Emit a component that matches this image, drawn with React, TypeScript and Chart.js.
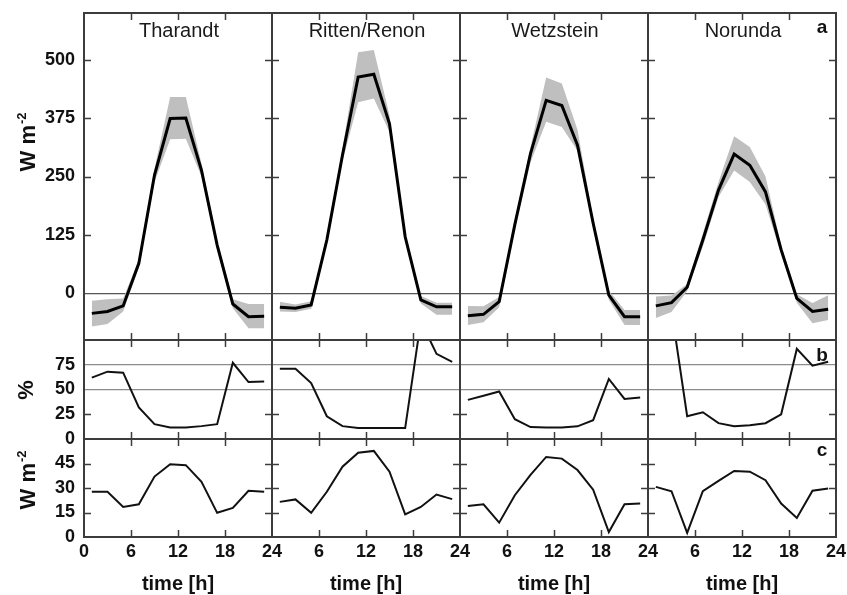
import React, { useEffect, useRef } from 'react';
import { Chart, registerables } from 'chart.js';

Chart.register(...registerables);

// ---------- data ----------
const SITES = ['Tharandt', 'Ritten/Renon', 'Wetzstein', 'Norunda'];
const HOURS = [1, 3, 5, 7, 9, 11, 13, 15, 17, 19, 21, 23];
const X_TICKS = [0, 6, 12, 18, 24];
const A_TICKS = [0, 125, 250, 375, 500];
const B_TICKS = [0, 25, 50, 75];
const C_TICKS = [0, 15, 30, 45];
const ROW_LETTERS = ['a', 'b', 'c'];
const X_TITLE = 'time [h]';

// (a) mean flux (W m-2) and its range
const A_MEAN_THARANDT = [-43, -39, -27, 64, 253, 374, 375, 263, 103, -23, -50, -49];
const A_LOW_THARANDT = [-71, -66, -39, 55, 238, 330, 331, 250, 92, -32, -75, -75];
const A_HIGH_THARANDT = [-16, -13, -11, 72, 267, 420, 420, 278, 112, -13, -23, -23];

const A_MEAN_RITTEN = [-30, -32, -25, 114, 296, 463, 469, 363, 121, -14, -29, -29];
const A_LOW_RITTEN = [-39, -40, -33, 106, 283, 409, 417, 345, 112, -22, -46, -46];
const A_HIGH_RITTEN = [-18, -24, -17, 122, 310, 516, 521, 381, 130, -6, -20, -20];

const A_MEAN_WETZSTEIN = [-48, -45, -18, 147, 299, 413, 402, 317, 150, -4, -50, -50];
const A_LOW_WETZSTEIN = [-68, -62, -30, 137, 280, 367, 356, 305, 140, -14, -68, -68];
const A_HIGH_WETZSTEIN = [-27, -28, -8, 157, 313, 462, 449, 350, 160, 6, -36, -36];

const A_MEAN_NORUNDA = [-27, -20, 13, 114, 221, 298, 274, 217, 93, -11, -39, -34];
const A_LOW_NORUNDA = [-53, -40, 5, 100, 206, 263, 238, 190, 83, -20, -64, -57];
const A_HIGH_NORUNDA = [-7, -5, 20, 128, 238, 336, 313, 250, 103, -2, -21, -4];

// (b) percent
const B_THARANDT = [62, 68, 67, 32, 15, 11.6, 11.5, 13, 15, 77, 57.5, 58];
const B_RITTEN = [71, 71, 56.5, 23, 13, 11, 11, 11, 11, 119, 86, 78];
const B_WETZSTEIN = [39.5, 43.6, 48, 20, 12, 11.5, 11.5, 12.8, 19, 60.6, 40.5, 42];
const B_NORUNDA = [135, 130, 23, 27, 16, 13, 14, 16, 25, 91, 74, 78];

// (c) W m-2
const C_THARANDT = [27.7, 27.7, 18.4, 20, 37, 44.5, 44, 33.8, 14.8, 17.8, 28.3, 27.7];
const C_RITTEN = [21.5, 23, 14.8, 27.7, 43, 51.6, 52.7, 40, 13.8, 18.4, 26, 23.2];
const C_WETZSTEIN = [19, 20, 8.8, 25.6, 38, 49, 48, 41, 29, 3, 20, 20.5];
const C_NORUNDA = [30.7, 28, 2.5, 28, 34.4, 40.4, 40, 34.8, 20.5, 11.7, 28.3, 29.7];

const A_MEAN = [A_MEAN_THARANDT, A_MEAN_RITTEN, A_MEAN_WETZSTEIN, A_MEAN_NORUNDA];
const A_LOW = [A_LOW_THARANDT, A_LOW_RITTEN, A_LOW_WETZSTEIN, A_LOW_NORUNDA];
const A_HIGH = [A_HIGH_THARANDT, A_HIGH_RITTEN, A_HIGH_WETZSTEIN, A_HIGH_NORUNDA];
const B_VALS = [B_THARANDT, B_RITTEN, B_WETZSTEIN, B_NORUNDA];
const C_VALS = [C_THARANDT, C_RITTEN, C_WETZSTEIN, C_NORUNDA];

// ---------- layout / style ----------
const W = 847;
const H = 595;
const PANEL_LEFT = 84;
const PANEL_W = 188;
const FONT = '"Liberation Sans", Arial, Helvetica, sans-serif';

const ROWS = [
  { top: 13, bottom: 340, min: -100, max: 600, ticks: A_TICKS, lines: [0], lineColor: '#555555', marks: [125, 250, 375, 500], unit: 'W m', sup: '-2', unitX: 27, unitY: 142, letterY: 28 },
  { top: 340, bottom: 439, min: 0, max: 100, ticks: B_TICKS, lines: [50, 75], lineColor: '#8c8c8c', marks: [25], unit: '%', sup: '', unitX: 25, unitY: 390, letterY: 356 },
  { top: 439, bottom: 537, min: 0, max: 60, ticks: C_TICKS, lines: [] as number[], lineColor: '#8c8c8c', marks: [15, 30, 45], unit: 'W m', sup: '-2', unitX: 27, unitY: 480, letterY: 451 },
];

function drawUnit(ctx: CanvasRenderingContext2D, x: number, y: number, main: string, sup: string) {
  ctx.save();
  ctx.translate(x, y);
  ctx.rotate(-Math.PI / 2);
  ctx.fillStyle = '#111';
  ctx.textBaseline = 'alphabetic';
  ctx.textAlign = 'left';
  ctx.font = `bold 22px ${FONT}`;
  const w1 = ctx.measureText(main).width;
  ctx.font = `bold 13px ${FONT}`;
  const w2 = sup ? ctx.measureText(sup).width + 1 : 0;
  const start = -(w1 + w2) / 2;
  ctx.font = `bold 22px ${FONT}`;
  ctx.fillText(main, start, 8);
  if (sup) {
    ctx.font = `bold 13px ${FONT}`;
    ctx.fillText(sup, start + w1 + 1, -1);
  }
  ctx.restore();
}

function makeFramePlugin(col: number, row: number) {
  const R = ROWS[row];
  return {
    id: 'panelFrame' + col + row,
    afterDraw(chart: any) {
      const { ctx, chartArea: ca, scales } = chart;
      const xs = scales.x;
      const ys = scales.y;
      ctx.save();
      ctx.strokeStyle = '#3c3c3c';
      ctx.lineWidth = 1.5;
      ctx.beginPath();
      for (const v of X_TICKS.slice(1, -1)) {
        const px = Math.round(xs.getPixelForValue(v)) + 0.5;
        ctx.moveTo(px, ca.top);
        ctx.lineTo(px, ca.top + 7);
        ctx.moveTo(px, ca.bottom);
        ctx.lineTo(px, ca.bottom - 7);
      }
      for (const v of R.marks) {
        const py = Math.round(ys.getPixelForValue(v)) + 0.5;
        ctx.moveTo(ca.left, py);
        ctx.lineTo(ca.left + 7, py);
        ctx.moveTo(ca.right, py);
        ctx.lineTo(ca.right - 7, py);
      }
      ctx.stroke();
      ctx.lineWidth = 2;
      ctx.strokeRect(ca.left, ca.top, ca.right - ca.left, ca.bottom - ca.top);

      if (row === 0) {
        ctx.fillStyle = '#1a1a1a';
        ctx.font = `20px ${FONT}`;
        ctx.textAlign = 'center';
        ctx.textBaseline = 'middle';
        ctx.fillText(SITES[col], (ca.left + ca.right) / 2 + 1, ca.top + 18);
      }
      if (col === 3) {
        ctx.fillStyle = '#111';
        ctx.font = `bold 19px ${FONT}`;
        ctx.textAlign = 'center';
        ctx.textBaseline = 'middle';
        ctx.fillText(ROW_LETTERS[row], ca.right - 14, R.letterY);
      }
      if (col === 0) {
        drawUnit(ctx, R.unitX, R.unitY, R.unit, R.sup);
      }
      ctx.restore();
    },
  };
}

function Panel({ col, row }: { col: number; row: number }) {
  const ref = useRef<HTMLCanvasElement>(null);
  useEffect(() => {
    const R = ROWS[row];
    const pts = (vals: number[]) => HOURS.map((h, i) => ({ x: h, y: vals[i] }));
    const datasets: any[] = [];
    if (row === 0) {
      // dataset 0 is drawn on top in Chart.js, so the mean line goes first
      datasets.push({ data: pts(A_MEAN[col]), borderWidth: 3, borderColor: '#000', pointRadius: 0, fill: false, clip: 0 });
      datasets.push({ data: pts(A_LOW[col]), borderWidth: 0, borderColor: 'rgba(0,0,0,0)', pointRadius: 0, fill: false, clip: 0 });
      datasets.push({ data: pts(A_HIGH[col]), borderWidth: 0, borderColor: 'rgba(0,0,0,0)', pointRadius: 0, fill: 1, backgroundColor: '#bfbfbf', clip: 0 });
    } else {
      const vals = row === 1 ? B_VALS[col] : C_VALS[col];
      datasets.push({ data: pts(vals), borderWidth: 2, borderColor: '#111', pointRadius: 0, fill: false, clip: 0 });
    }
    const firstCol = col === 0;
    const lastRow = row === 2;
    const chart = new Chart(ref.current as HTMLCanvasElement, {
      type: 'line',
      data: { datasets },
      options: {
        animation: false,
        responsive: false,
        maintainAspectRatio: false,
        events: [],
        layout: {
          autoPadding: false,
          padding: {
            left: firstCol ? 0 : PANEL_LEFT + col * PANEL_W,
            right: W - (PANEL_LEFT + (col + 1) * PANEL_W),
            top: R.top,
            bottom: lastRow ? 0 : H - R.bottom,
          },
        },
        plugins: {
          legend: { display: false },
          tooltip: { enabled: false },
          title: { display: false },
        },
        scales: {
          x: {
            type: 'linear',
            min: 0,
            max: 24,
            afterBuildTicks: (s: any) => {
              s.ticks = (firstCol ? X_TICKS : X_TICKS.slice(1)).map((v) => ({ value: v }));
            },
            afterFit: (s: any) => {
              s.height = lastRow ? H - R.bottom : 0;
              s.paddingLeft = 0;
              s.paddingRight = 0;
              s.paddingTop = 0;
              s.paddingBottom = 0;
            },
            grid: { display: false, drawTicks: false },
            border: { display: false },
            ticks: {
              display: lastRow,
              padding: 4,
              maxRotation: 0,
              minRotation: 0,
              autoSkip: false,
              color: '#111',
              font: { family: FONT, size: 18, weight: 'bold', lineHeight: 1.2 },
            },
            title: {
              display: lastRow,
              text: X_TITLE,
              color: '#111',
              font: { family: FONT, size: 20, weight: 'bold', lineHeight: 1 },
              padding: { top: 0, bottom: 1 },
            },
          },
          y: {
            type: 'linear',
            min: R.min,
            max: R.max,
            afterBuildTicks: (s: any) => {
              s.ticks = R.ticks.map((v) => ({ value: v }));
            },
            afterFit: (s: any) => {
              s.width = firstCol ? PANEL_LEFT : 0;
              s.paddingLeft = 0;
              s.paddingRight = 0;
              s.paddingTop = 0;
              s.paddingBottom = 0;
            },
            grid: {
              drawTicks: false,
              lineWidth: 1.2,
              color: (c: any) => (c.tick && R.lines.includes(c.tick.value) ? R.lineColor : 'rgba(0,0,0,0)'),
            },
            border: { display: false },
            ticks: {
              display: firstCol,
              padding: 9,
              autoSkip: false,
              color: '#111',
              font: { family: FONT, size: 18, weight: 'bold', lineHeight: 1.2 },
            },
          },
        },
      } as any,
      plugins: [makeFramePlugin(col, row)],
    });
    return () => chart.destroy();
  }, [col, row]);
  return (
    <canvas
      ref={ref}
      width={W}
      height={H}
      style={{ position: 'absolute', left: 0, top: 0, width: W, height: H }}
    />
  );
}

export default function App() {
  const panels: React.ReactNode[] = [];
  for (let r = 0; r < 3; r++) {
    for (let c = 0; c < 4; c++) {
      panels.push(<Panel key={`${r}-${c}`} col={c} row={r} />);
    }
  }
  return (
    <div style={{ position: 'absolute', left: 0, top: 0, width: W, height: H, background: '#fff', overflow: 'hidden' }}>
      {panels}
    </div>
  );
}
